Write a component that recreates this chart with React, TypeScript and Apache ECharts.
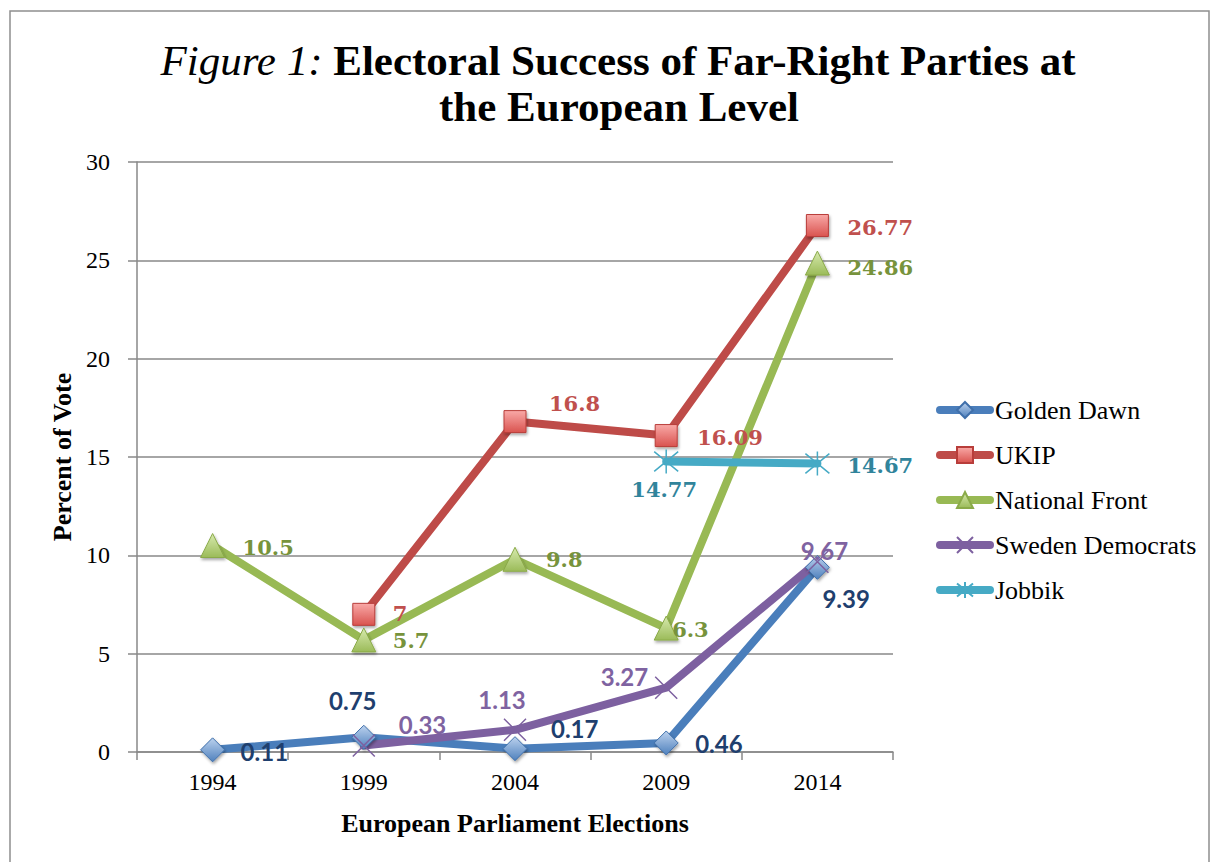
import React, { useEffect, useRef } from 'react';
import * as echarts from 'echarts';

const years = ['1994', '1999', '2004', '2009', '2014'];
const goldenDawn = [0.11, 0.75, 0.17, 0.46, 9.39];
const ukip = [null, 7, 16.8, 16.09, 26.77];
const nationalFront = [10.5, 5.7, 9.8, 6.3, 24.86];
const swedenDemocrats = [null, 0.33, 1.13, 3.27, 9.67];
const jobbik = [null, null, null, 14.77, 14.67];
const seriesNames = ['Golden Dawn', 'UKIP', 'National Front', 'Sweden Democrats', 'Jobbik'];
const yMin = 0;
const yMax = 30;
const yStep = 5;

// label placement relative to point centre: [dx, dy, align]
type Place = [number, number, string] | null;
const gdPlace: Place[] = [[28, 2, 'left'], [-11, -37, 'center'], [36, -20, 'left'], [29, 1, 'left'], [5, 31, 'left']];
const ukPlace: Place[] = [null, [29, -1, 'left'], [34, -18, 'left'], [31, 2, 'left'], [30, 2, 'left']];
const nfPlace: Place[] = [[30, 2, 'left'], [29, 1, 'left'], [31, 0, 'left'], [6, 1, 'left'], [30, 4, 'left']];
const sdPlace: Place[] = [null, [35, -21, 'left'], [-13, -30, 'center'], [-18, -11, 'right'], [7, -11, 'center']];
const jbPlace: Place[] = [null, null, null, [-2, 28, 'center'], [30, 2, 'left']];

const SERIF = 'Liberation Serif';
const LABEL_SERIF = 'DejaVu Serif';
const LABEL_SANS = 'Lato';

function buildData(values: (number | null)[], places: Place[], color: string, font: string, size: number) {
  return values.map((v, i) => {
    if (v == null) return null;
    const p = places[i];
    if (!p) return v;
    return {
      value: v,
      label: {
        show: true,
        position: 'inside',
        align: p[2],
        verticalAlign: 'middle',
        offset: [p[0], p[1]],
        color,
        fontFamily: font,
        fontWeight: 'bold',
        fontSize: size,
      },
    };
  });
}

const grad = (a: string, b: string) =>
  new echarts.graphic.LinearGradient(0, 0, 0, 1, [
    { offset: 0, color: a },
    { offset: 1, color: b },
  ]);

const shadow = {
  shadowBlur: 3,
  shadowColor: 'rgba(0,0,0,0.35)',
  shadowOffsetX: 1,
  shadowOffsetY: 2,
};

export default function App() {
  const ref = useRef<HTMLDivElement>(null);
  useEffect(() => {
    if (!ref.current) return;
    const chart = echarts.init(ref.current, undefined, { renderer: 'svg' });
    const lineBase = (color: string) => ({
      width: 8,
      color,
      cap: 'round',
      join: 'round',
    });
    chart.setOption({
      animation: false,
      backgroundColor: '#ffffff',
      textStyle: { fontFamily: SERIF },
      graphic: [
        {
          type: 'rect',
          shape: { x: 10, y: 11, width: 1199, height: 900 },
          style: { fill: 'none', stroke: '#8f8f8f', lineWidth: 1.5 },
          silent: true,
        },
        {
          type: 'text',
          x: 618,
          y: 60,
          style: {
            text: '{i|Figure 1:}{b| Electoral Success of Far-Right Parties at}',
            align: 'center',
            verticalAlign: 'middle',
            rich: {
              i: { fontFamily: SERIF, fontSize: 43, fontStyle: 'italic', fontWeight: 'normal', fill: '#000' },
              b: { fontFamily: SERIF, fontSize: 43, fontWeight: 'bold', fill: '#000' },
            },
          },
        },
        {
          type: 'text',
          x: 619,
          y: 106,
          style: {
            text: 'the European Level',
            align: 'center',
            verticalAlign: 'middle',
            fontFamily: SERIF,
            fontSize: 43,
            fontWeight: 'bold',
            fill: '#000',
          },
        },
      ],
      grid: { left: 137, top: 162, width: 756, height: 590 },
      legend: {
        orient: 'vertical',
        left: 931,
        top: 392,
        itemWidth: 50,
        itemHeight: 20,
        itemGap: 19,
        data: seriesNames,
        textStyle: { fontFamily: SERIF, fontSize: 26, color: '#000' },
        lineStyle: { width: 8, cap: 'round' },
      },
      xAxis: {
        type: 'category',
        data: years,
        boundaryGap: true,
        axisLine: { show: true, lineStyle: { color: '#898989', width: 1.5 } },
        axisTick: { show: true, length: 8, interval: 0, lineStyle: { color: '#898989', width: 1.5 } },
        axisLabel: { margin: 18, fontFamily: SERIF, fontSize: 24, color: '#000' },
        name: 'European Parliament Elections',
        nameLocation: 'middle',
        nameGap: 58,
        nameTextStyle: { fontFamily: SERIF, fontSize: 26, fontWeight: 'bold', color: '#000' },
      },
      yAxis: {
        type: 'value',
        min: yMin,
        max: yMax,
        interval: yStep,
        axisLine: { show: true, lineStyle: { color: '#898989', width: 1.5 } },
        axisTick: { show: true, length: 9, lineStyle: { color: '#898989', width: 1.5 } },
        splitLine: { show: true, lineStyle: { color: '#898989', width: 1.5 } },
        axisLabel: { margin: 27, fontFamily: SERIF, fontSize: 24, color: '#000' },
        name: 'Percent of Vote',
        nameLocation: 'middle',
        nameGap: 62,
        nameTextStyle: { fontFamily: SERIF, fontSize: 26, fontWeight: 'bold', color: '#000' },
      },
      series: [
        {
          name: seriesNames[0],
          type: 'line',
          data: buildData(goldenDawn, gdPlace, '#1F3F6E', LABEL_SANS, 24),
          symbol: 'diamond',
          symbolSize: 24,
          lineStyle: lineBase('#4A7EBB'),
          itemStyle: { color: grad('#BCD2EE', '#4F81BD'), borderColor: '#3F6FAA', borderWidth: 1, ...shadow },
        },
        {
          name: seriesNames[1],
          type: 'line',
          data: buildData(ukip, ukPlace, '#C0504D', LABEL_SERIF, 21),
          symbol: 'rect',
          symbolSize: 22,
          lineStyle: lineBase('#BE4B48'),
          itemStyle: { color: grad('#F9A9A7', '#D9534F'), borderColor: '#B83D3A', borderWidth: 1, ...shadow },
        },
        {
          name: seriesNames[2],
          type: 'line',
          data: buildData(nationalFront, nfPlace, '#77933C', LABEL_SERIF, 21),
          symbol: 'triangle',
          symbolSize: 24,
          lineStyle: lineBase('#98B954'),
          itemStyle: { color: grad('#D7EAAE', '#9BBB59'), borderColor: '#8AAA48', borderWidth: 1, ...shadow },
        },
        {
          name: seriesNames[3],
          type: 'line',
          data: buildData(swedenDemocrats, sdPlace, '#7F63A1', LABEL_SANS, 24),
          symbol: 'path://M0 0L20 20M20 0L0 20',
          symbolSize: 22,
          lineStyle: lineBase('#7D60A0'),
          itemStyle: { color: 'rgba(0,0,0,0)', borderColor: '#7D60A0', borderWidth: 1.5 },
        },
        {
          name: seriesNames[4],
          type: 'line',
          data: buildData(jobbik, jbPlace, '#31849B', LABEL_SERIF, 21),
          symbol: 'path://M1 2L21 20M21 2L1 20M11 0L11 22',
          symbolSize: 24,
          lineStyle: lineBase('#46AAC5'),
          itemStyle: { color: 'rgba(0,0,0,0)', borderColor: '#46AAC5', borderWidth: 1.5 },
        },
      ],
    });
    return () => chart.dispose();
  }, []);
  return (
    <div
      ref={ref}
      style={{ position: 'fixed', left: 0, top: 0, width: 1211, height: 862 }}
    />
  );
}
